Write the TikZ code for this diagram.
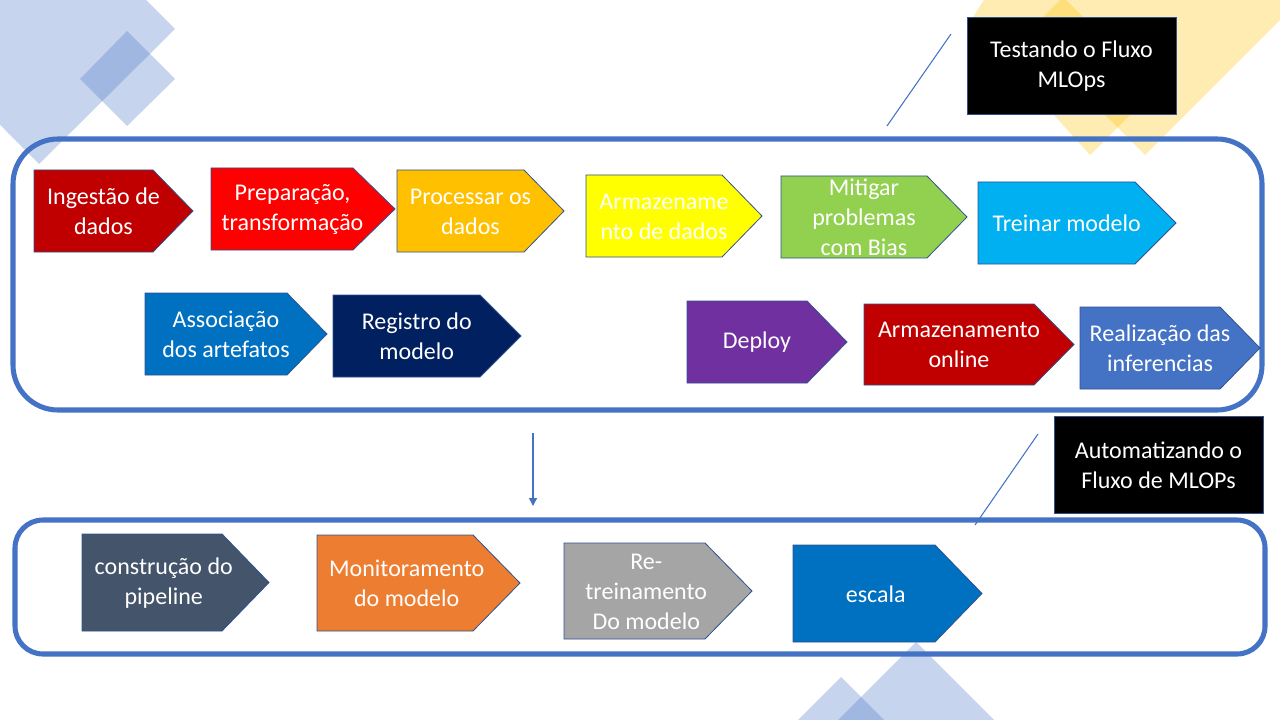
\documentclass[tikz,border=0pt]{standalone}
\usepackage{fontspec}
\setmainfont{Carlito}
\usetikzlibrary{arrows.meta}

\definecolor{accent}{HTML}{4472C4}
\definecolor{edgeblue}{HTML}{2F528F}
\definecolor{gold}{HTML}{FFC000}
\definecolor{darkred}{HTML}{C00000}
\definecolor{brightred}{HTML}{FF0000}
\definecolor{amber}{HTML}{FFC000}
\definecolor{lemon}{HTML}{FFFF00}
\definecolor{leaf}{HTML}{92D050}
\definecolor{sky}{HTML}{00B0F0}
\definecolor{ocean}{HTML}{0070C0}
\definecolor{navy}{HTML}{002060}
\definecolor{violet}{HTML}{7030A0}
\definecolor{steel}{HTML}{44546A}
\definecolor{tangerine}{HTML}{ED7D31}
\definecolor{ash}{HTML}{A5A5A5}

\tikzset{
  chevshape/.style={fill=#1, draw=edgeblue, line width=0.6pt},
  lbl/.style={text=white, align=center, inner sep=0pt,
              font=\fontsize{18}{22.5}\selectfont},
  frame/.style={draw=accent, line width=3.8pt},
  decoblue/.style={fill=accent, fill opacity=0.3},
  decogold/.style={fill=gold, fill opacity=0.3},
  thinline/.style={draw=accent, line width=0.8pt},
  titlebox/.style={fill=black, draw=edgeblue, line width=0.6pt, text=white,
                   align=center, font=\fontsize{18}{22.5}\selectfont,
                   minimum width=156.75pt, minimum height=72.75pt, inner sep=0pt},
}

% home-plate arrow: name, left, top, tip start, tip, bottom, colour, text
\newcommand{\chevbox}[8]{%
  \path[chevshape=#7] (#2,#3) -- (#4,#3) -- (#5,{(#3+#6)/2}) -- (#4,#6) -- (#2,#6) -- cycle;
  \node[lbl] (#1) at ({(#2+(#4+#5)/2)/2},{(#3+#6)/2+0.5}) {#8};%
}

\begin{document}
\begin{tikzpicture}[x=0.75pt, y=-0.75pt]
\useasboundingbox (0,0) rectangle (1280,720);
\clip (0,0) rectangle (1280,720);

% background ornaments
\path[decoblue] (39,164) -- (175,29) -- (40,-107) -- (-96,28) -- cycle;
\path[decoblue] (127,31) -- (175,79) -- (127,126) -- (80,79) -- cycle;
\path[decogold] (987,-5) -- (970,22) -- (1090,155) -- (1155.5,89.5) -- (1024,-42) -- cycle;
\path[decogold] (1145,155) -- (1025,35) -- (1260,-200) -- (1380,-80) -- cycle;
\path[decoblue] (916,642) -- (995,721) -- (916,800) -- (837,721) -- cycle;
\path[decoblue] (841,677) -- (885,721) -- (841,765) -- (797,721) -- cycle;

% stage frames
\draw[frame, rounded corners=33.75pt] (13,139) rectangle (1262,410);
\draw[frame, rounded corners=21pt] (15,520) rectangle (1265,654);

% testing flow, first row
\chevbox{ing}{34}{170}{153}{193}{252}{darkred}{Ingestão de\\dados}
\chevbox{prep}{211}{168}{353}{395}{250}{brightred}{Preparação,\\transformação}
\chevbox{proc}{397}{170}{524}{564}{252}{amber}{Processar os\\dados}
\chevbox{arm}{586}{175}{722}{762}{257}{lemon}{Armazename\\nto de dados}
\chevbox{mit}{781}{176}{927}{967}{258}{leaf}{Mitigar\\problemas\\com Bias}
\chevbox{trei}{978}{182}{1135}{1176}{264}{sky}{Treinar modelo}

% testing flow, second row
\chevbox{assoc}{145}{293}{287}{327}{375}{ocean}{Associação\\dos artefatos}
\chevbox{reg}{333}{295}{480}{521}{377}{navy}{Registro do\\modelo}
\chevbox{dep}{687}{301}{807}{847}{383}{violet}{Deploy}
\chevbox{armon}{864}{304}{1034}{1074}{385}{darkred}{Armazenamento\\online}
\chevbox{real}{1080}{307}{1220}{1260}{389}{accent}{Realização das\\inferencias}

% automation flow
\chevbox{cons}{82}{534}{222}{269}{631}{steel}{construção do\\pipeline}
\chevbox{mon}{317}{535}{473}{520}{631}{tangerine}{Monitoramento\\do modelo}
\chevbox{retr}{564}{543}{705}{752}{639}{ash}{Re-\\treinamento\\Do modelo}
\chevbox{esc}{793}{545}{935}{982}{642}{ocean}{escala}

% stage titles and their pointer lines
\node[titlebox] (t1) at (1071.5,66) {Testando o Fluxo\\MLOps};
\node[titlebox] (t2) at (1158.5,465) {Automatizando o\\Fluxo de MLOPs};
\coordinate (p1a) at (951,34);
\coordinate (p1b) at (887,126);
\coordinate (p2a) at (1038,434);
\coordinate (p2b) at (975,525);
\draw[thinline] (p1a) -- (p1b);
\draw[thinline] (p2a) -- (p2b);

% transition between the stages
\coordinate (down1) at (533,433);
\coordinate (down2) at (533,506);
\draw[accent, line width=0.9pt, -{Triangle[width=6pt,length=6pt]}] (down1) -- (down2);

\end{tikzpicture}
\end{document}
